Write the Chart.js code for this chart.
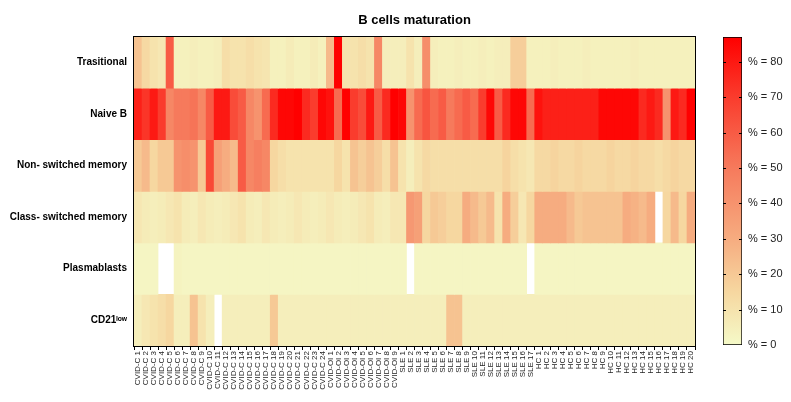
<!DOCTYPE html>
<html>
<head>
<meta charset="utf-8">
<script src="https://cdn.jsdelivr.net/npm/chart.js@4.4.1/dist/chart.umd.min.js"></script>
<style>
  html, body { margin: 0; padding: 0; background: #fff; }
  #wrap { position: relative; width: 791px; height: 402px; }
  #heat { position: absolute; left: 0; top: 0; }
  #bar { position: absolute; left: 700px; top: 0; }
</style>
</head>
<body>
<div id="wrap">
  <canvas id="heat" width="791" height="402"></canvas>
  <canvas id="bar" width="91" height="402"></canvas>
</div>
<script>
// rows of the heatmap, top to bottom
const ROWS = ['Trasitional', 'Naive B', 'Non- switched memory', 'Class- switched memory', 'Plasmablasts', 'CD21ˡᵒʷ'];

// patients, left to right
const CVID_C = Array.from({length: 24}, (_, i) => 'CVID-C ' + (i + 1));
const CVID_OI = Array.from({length: 9}, (_, i) => 'CVID-OI ' + (i + 1));
const SLE = Array.from({length: 17}, (_, i) => 'SLE ' + (i + 1));
const HC = Array.from({length: 20}, (_, i) => 'HC ' + (i + 1));
const COLS = [...CVID_C, ...CVID_OI, ...SLE, ...HC];

// percentages per row (null = no value, drawn white)
const TRASITIONAL = [
  22,14,10,8,60,4,4,5,4,4,5,12,10,10,12,10,9,4,4,6,4,4,6,4,
  25,88,10,10,12,10,45,5,5,
  5,10,5,42,5,4,4,5,4,4,5,4,5,5,18,18,4,
  4,4,5,4,4,4,5,4,4,4,4,4,5,4,4,4,4,4,4,4];
const NAIVE_B = [
  78,72,80,70,45,50,50,52,45,60,80,80,65,60,45,40,55,75,85,85,88,75,70,85,
  82,55,88,70,65,80,60,75,88,
  85,40,55,62,55,60,50,55,60,55,70,85,60,75,85,85,55,
  82,78,78,78,78,78,78,78,85,85,85,85,85,75,80,75,40,80,75,88];
const NON_SWITCHED = [
  20,25,15,20,20,40,42,40,20,66,35,30,25,60,45,48,45,15,12,10,10,10,10,10,
  10,15,10,22,18,22,18,12,22,
  10,5,10,14,12,12,12,12,12,12,12,12,12,16,12,10,8,
  14,14,16,14,14,16,14,14,14,16,14,14,16,14,14,12,14,16,14,14];
const CLASS_SWITCHED = [
  8,6,5,6,8,10,6,5,8,6,5,6,8,10,6,5,8,6,5,6,8,6,5,6,
  8,6,5,6,8,10,6,5,8,
  8,38,35,15,20,18,15,15,30,25,20,25,10,30,18,8,15,
  30,30,30,30,25,20,22,22,22,22,22,30,28,25,30,null,15,25,15,30];
const PLASMABLASTS = [
  2,2,2,null,null,3,2,2,2,2,2,2,2,2,2,2,2,2,2,2,2,2,2,2,
  2,2,2,2,2,2,2,2,2,
  2,null,2,2,2,2,2,2,2,2,2,2,2,2,2,2,null,
  2,2,2,2,2,2,2,2,2,2,2,2,2,2,2,2,2,2,2,2];
const CD21_LOW = [
  5,8,10,12,15,5,5,22,10,5,null,5,5,5,5,5,5,20,5,5,5,5,5,5,
  5,5,5,5,5,5,5,5,5,
  5,5,5,5,5,5,22,22,5,5,5,5,5,5,5,5,5,
  5,5,5,5,5,5,5,5,5,5,5,5,5,5,5,5,5,5,5,5];
const VALUES = [TRASITIONAL, NAIVE_B, NON_SWITCHED, CLASS_SWITCHED, PLASMABLASTS, CD21_LOW];

// colour key
const SCALE_MAX = 87;
const KEY_TICKS = [0, 10, 20, 30, 40, 50, 60, 70, 80];

const FONT = 'Arial, "Liberation Sans", Helvetica, sans-serif';
const STOPS = [
  [0, [245, 250, 200]],
  [15, [246, 215, 160]],
  [30, [246, 172, 128]],
  [50, [246, 122, 92]],
  [70, [250, 60, 45]],
  [87, [255, 0, 0]]
];

function colorFor(v) {
  if (v == null) return 'rgba(0,0,0,0)';
  if (v <= STOPS[0][0]) return 'rgb(' + STOPS[0][1].join(',') + ')';
  for (let i = 1; i < STOPS.length; i++) {
    if (v <= STOPS[i][0]) {
      const [a, ca] = STOPS[i - 1], [b, cb] = STOPS[i];
      const t = (v - a) / (b - a);
      const c = ca.map((x, k) => Math.round(x + (cb[k] - x) * t));
      return 'rgb(' + c.join(',') + ')';
    }
  }
  return 'rgb(255,0,0)';
}

const frame = {
  id: 'frame',
  afterDatasetsDraw(chart) {
    const {ctx, chartArea: a} = chart;
    ctx.save();
    ctx.strokeStyle = '#000';
    ctx.lineWidth = 1;
    ctx.strokeRect(Math.round(a.left) - 0.5, Math.round(a.top) - 0.5,
      Math.round(a.right - a.left) + 1, Math.round(a.bottom - a.top) + 1);
    ctx.restore();
  }
};

// small marks on both edges of the colour key
const keyMarks = {
  id: 'keyMarks',
  afterDatasetsDraw(chart) {
    const {ctx, chartArea: a, scales: {y}} = chart;
    ctx.save();
    ctx.strokeStyle = '#000';
    ctx.lineWidth = 1;
    KEY_TICKS.slice(1).forEach(v => {
      const py = Math.round(y.getPixelForValue(v)) + 0.5;
      ctx.beginPath();
      ctx.moveTo(a.left, py); ctx.lineTo(a.left + 3, py);
      ctx.moveTo(a.right - 3, py); ctx.lineTo(a.right, py);
      ctx.stroke();
    });
    ctx.restore();
  }
};

new Chart(document.getElementById('heat'), {
  type: 'bar',
  data: {
    labels: COLS,
    datasets: VALUES.map((row, r) => ({
      label: ROWS[r],
      data: row.map(v => v == null ? null : [r, r + 1]),
      backgroundColor: row.map(colorFor),
      borderWidth: 0,
      barPercentage: 1,
      categoryPercentage: 1,
      grouped: false
    }))
  },
  options: {
    responsive: false,
    animation: false,
    layout: {padding: {top: 5, right: 96, left: 0, bottom: 0}},
    plugins: {
      legend: {display: false},
      tooltip: {enabled: false},
      title: {
        display: true,
        fullSize: false,
        text: 'B cells maturation',
        color: '#000',
        font: {family: FONT, size: 13, weight: 'bold'},
        padding: {top: 8, bottom: 8},
        align: 'center'
      }
    },
    scales: {
      x: {
        type: 'category',
        offset: true,
        grid: {display: true, drawOnChartArea: false, color: '#000', tickLength: 4},
        border: {display: false},
        ticks: {
          autoSkip: false, maxRotation: 90, minRotation: 90, padding: 1,
          color: '#222', font: {family: FONT, size: 8}
        },
        afterFit(s) { s.height = 56; }
      },
      y: {
        type: 'linear', min: 0, max: 6, reverse: true,
        grid: {display: false, drawTicks: false},
        border: {display: false},
        afterBuildTicks(s) { s.ticks = ROWS.map((_, i) => ({value: i + 0.5})); },
        ticks: {
          color: '#000', padding: 7,
          font: {family: FONT, size: 10, weight: 'bold'},
          callback: v => ROWS[Math.floor(v)]
        },
        afterFit(s) { s.width = 134; }
      }
    }
  },
  plugins: [frame]
});

new Chart(document.getElementById('bar'), {
  type: 'bar',
  data: {
    labels: ['key'],
    datasets: [{
      data: [[0, SCALE_MAX]],
      backgroundColor(ctx) {
        const a = ctx.chart.chartArea;
        if (!a) return '#fff';
        const y = ctx.chart.scales.y;
        const g = ctx.chart.ctx.createLinearGradient(0, y.getPixelForValue(0), 0, y.getPixelForValue(SCALE_MAX));
        STOPS.forEach(([v, c]) => g.addColorStop(v / SCALE_MAX, 'rgb(' + c.join(',') + ')'));
        return g;
      },
      borderColor: '#000',
      borderWidth: 1,
      borderSkipped: false,
      barPercentage: 1,
      categoryPercentage: 1
    }]
  },
  options: {
    responsive: false,
    animation: false,
    layout: {padding: {top: 37, bottom: 402 - 345, left: 23, right: 0}},
    plugins: {legend: {display: false}, tooltip: {enabled: false}},
    scales: {
      x: {display: false},
      y: {
        position: 'right', min: 0, max: SCALE_MAX,
        afterBuildTicks(s) { s.ticks = KEY_TICKS.map(v => ({value: v})); },
        grid: {display: false, drawTicks: false},
        border: {display: false},
        ticks: {
          color: '#222', padding: 6,
          font: {family: FONT, size: 11},
          callback: v => '% = ' + v
        },
        afterFit(s) { s.width = 91 - 23 - 19; }
      }
    }
  },
  plugins: [keyMarks]
});
</script>
</body>
</html>
